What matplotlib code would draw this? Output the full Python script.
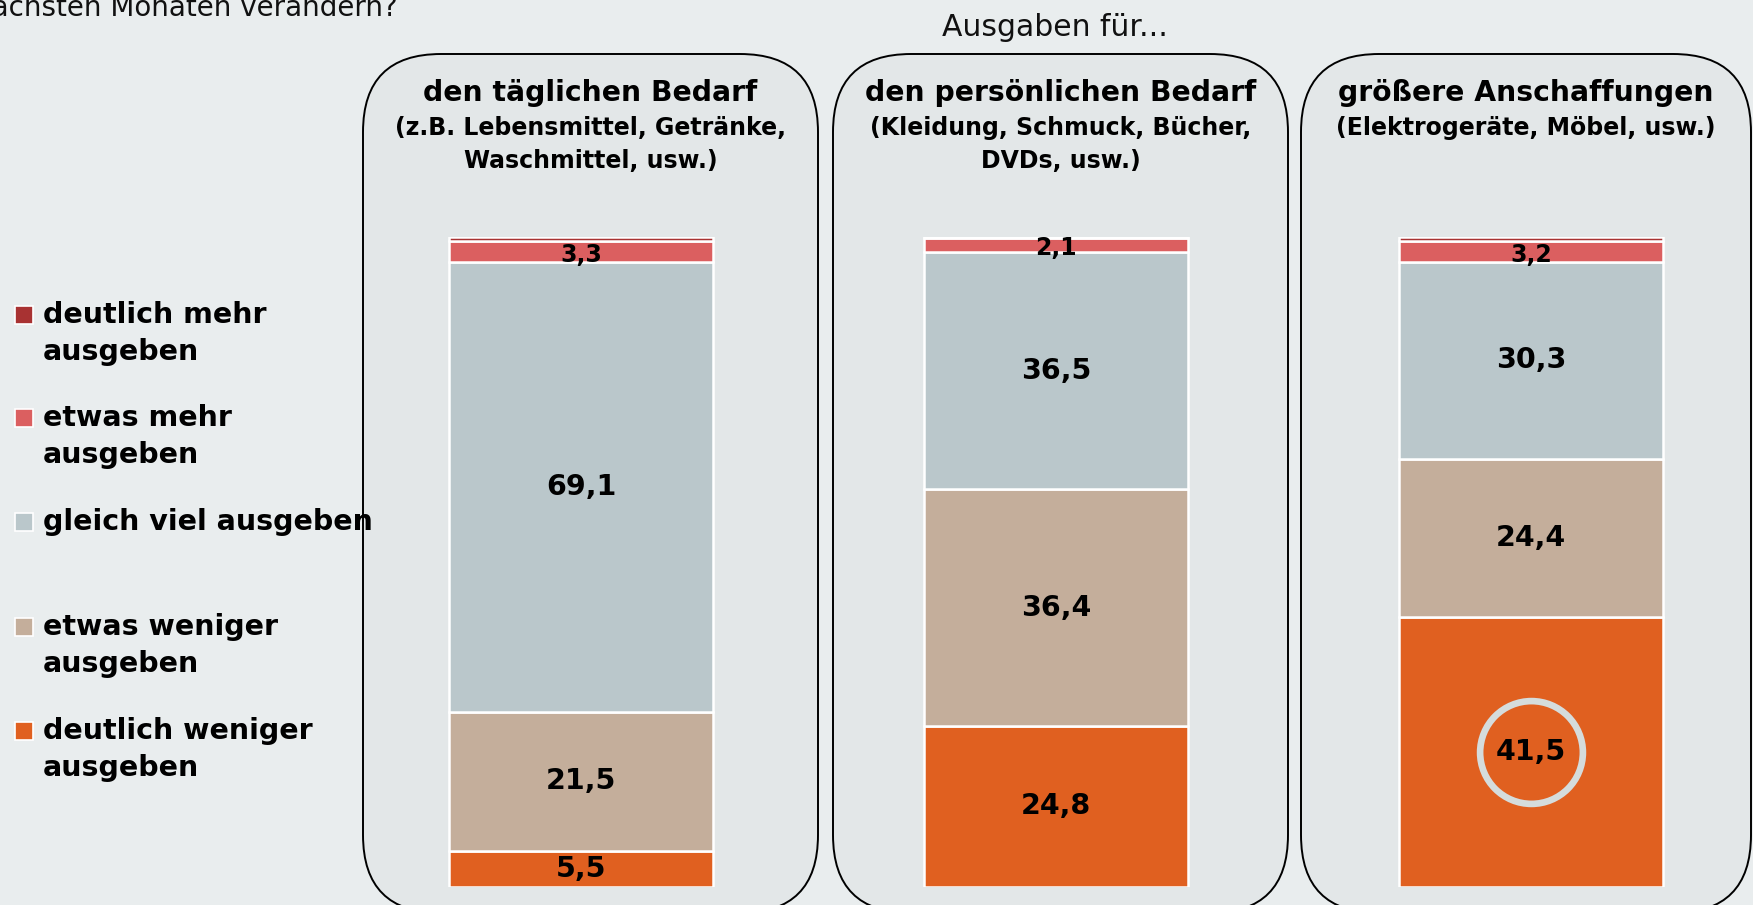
import matplotlib
matplotlib.use("Agg")
import matplotlib.pyplot as plt
from matplotlib.patches import FancyBboxPatch, Rectangle

# ---------------- data ----------------
categories = ["den täglichen Bedarf", "den persönlichen Bedarf", "größere Anschaffungen"]
subtitles = [["(z.B. Lebensmittel, Getränke,", "Waschmittel, usw.)"],
             ["(Kleidung, Schmuck, Bücher,", "DVDs, usw.)"],
             ["(Elektrogeräte, Möbel, usw.)"]]
series = ["deutlich weniger\nausgeben", "etwas weniger\nausgeben", "gleich viel ausgeben",
          "etwas mehr\nausgeben", "deutlich mehr\nausgeben"]
deutlich_weniger = [5.5, 24.8, 41.5]
etwas_weniger = [21.5, 36.4, 24.4]
gleich_viel = [69.1, 36.5, 30.3]
etwas_mehr = [3.3, 2.1, 3.2]
deutlich_mehr = [0.6, 0.2, 0.6]
values = [deutlich_weniger, etwas_weniger, gleich_viel, etwas_mehr, deutlich_mehr]
colors = ["#E06020", "#C4AE9B", "#BAC7CB", "#DB5F60", "#A83232"]
highlight = (2, 0)  # category index, series index circled

W, H = 1753, 905
BG = "#E9EDEE"
fig = plt.figure(figsize=(W / 100, H / 100), dpi=100, facecolor=BG)

# overlay axes in pixel coordinates (y from bottom)
ov = fig.add_axes([0, 0, 1, 1], zorder=0)
ov.set_xlim(0, W)
ov.set_ylim(0, H)
ov.axis("off")
ov.set_facecolor(BG)

# rounded panels
panels = [(363, 818), (833, 1288), (1301, 1751)]
for x0, x1 in panels:
    p = FancyBboxPatch((x0, -8), x1 - x0, H - 54 + 8,
                       boxstyle="round,pad=0,rounding_size=78",
                       facecolor="#E3E7E8", edgecolor="black", linewidth=1.4)
    ov.add_patch(p)

# headers
for (x0, x1), cat, sub in zip(panels, categories, subtitles):
    cx = (x0 + x1) / 2
    ov.text(cx, H - 93, cat, ha="center", va="center", fontsize=20.3,
            fontweight="bold", color="black")
    for k, line in enumerate(sub):
        ov.text(cx, H - 128 - 33 * k, line, ha="center", va="center",
                fontsize=17, fontweight="bold", color="black")

ov.text(1055, H - 28, "Ausgaben für...", ha="center", va="center",
        fontsize=21.5, color="#111111")
ov.text(398, H - 16, "nächsten Monaten verändern?", ha="right", va="baseline",
        fontsize=20, color="#111111")

# legend (top to bottom)
leg_y = [315, 418, 522, 627, 731]
for yy, name, col in zip(leg_y, series[::-1], colors[::-1]):
    ov.add_patch(Rectangle((15, H - yy - 9), 18, 18, facecolor=col,
                           edgecolor="white", linewidth=1.2))
    for k, line in enumerate(name.split("\n")):
        ov.text(43, H - yy - 37 * k, line, ha="left", va="center",
                fontsize=20.5, fontweight="bold", color="black")

# bar axes: value 0 at y=887 px from top, 100 at y=237
ax = fig.add_axes([0, (H - 887) / H, 1, 650 / H], zorder=2)
ax.patch.set_alpha(0)
c0 = 581
step = 475
ax.set_xlim(-c0 / step, (W - c0) / step)
ax.set_ylim(0, 100)
ax.axis("off")

xs = list(range(len(categories)))
bottoms = [0.0] * len(categories)
for si, (vals, col) in enumerate(zip(values, colors)):
    ax.bar(xs, vals, bottom=bottoms, width=264 / step, color=col,
           edgecolor="white", linewidth=1.8)
    for ci, v in enumerate(vals):
        if v >= 1.0:
            small = v < 4
            fs = 17 if small else 20.5
            yoff = -0.5 if small else 0
            ax.text(xs[ci], bottoms[ci] + v / 2 + yoff, f"{v:.1f}".replace(".", ","),
                    ha="center", va="center", fontsize=fs, fontweight="bold",
                    color="black", zorder=5)
    bottoms = [b + v for b, v in zip(bottoms, vals)]

ci, si = highlight
ycen = sum(values[k][ci] for k in range(si)) + values[si][ci] / 2
ax.plot(xs[ci], ycen, marker="o", markersize=74, markerfacecolor="none",
        markeredgecolor="#D5DCDC", markeredgewidth=4.8, zorder=4)

fig.savefig("out.png", dpi=100, facecolor=BG)
